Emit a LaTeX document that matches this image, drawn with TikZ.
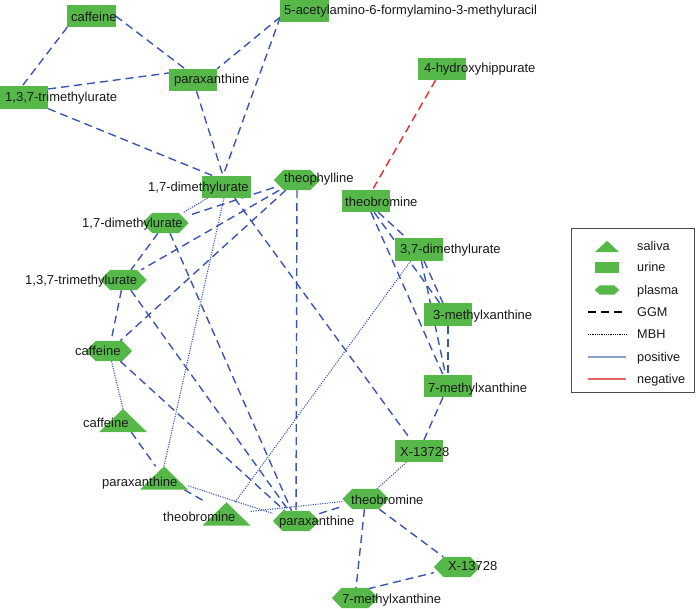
\documentclass[tikz,border=0pt]{standalone}
\usepackage{fontspec}
\setmainfont{Liberation Sans}
\usetikzlibrary{calc}
\definecolor{ngreen}{RGB}{86,184,72}
\definecolor{eblue}{RGB}{58,86,180}
\definecolor{ered}{RGB}{235,40,40}
\definecolor{lblue}{RGB}{140,155,210}
\definecolor{lred}{RGB}{230,100,100}
\definecolor{tcol}{RGB}{25,25,25}
\newcommand\hexfill[2]{\fill[ngreen] (#1.west) -- ([xshift=#2]#1.north west) -- ([xshift=-#2]#1.north east) -- (#1.east) -- ([xshift=-#2]#1.south east) -- ([xshift=#2]#1.south west) -- cycle;}
\newcommand\trifill[1]{\fill[ngreen] (#1.south west) -- (#1.north) -- (#1.south east) -- cycle;}
\newcommand\rectfill[1]{\fill[ngreen] (#1.north west) rectangle (#1.south east);}
\begin{document}
\begin{tikzpicture}[x=1pt,y=-1pt,
 urine/.style={rectangle,draw=none,minimum width=48pt,minimum height=22pt,inner sep=0pt},
 plasma/.style={rectangle,draw=none,minimum width=46pt,minimum height=20pt,inner sep=0pt},
 saliva/.style={rectangle,draw=none,minimum width=48pt,minimum height=23pt,inner sep=0pt},
 lgshape/.style={rectangle,draw=none,minimum width=24pt,minimum height=11pt,inner sep=0pt},
 lbl/.style={anchor=base west,inner sep=0pt,font=\fontsize{13}{15}\selectfont,text=tcol},
 lgl/.style={anchor=base west,inner sep=0pt,font=\fontsize{12.7}{15}\selectfont,text=tcol},
 ggm/.style={eblue,line width=1.4pt,dash pattern=on 8pt off 5pt},
 mbh/.style={eblue,line width=1.1pt,dash pattern=on 1.1pt off 1.3pt},
 neg/.style={ered,line width=1.4pt,dash pattern=on 8pt off 5pt},
]
\useasboundingbox (0,0) rectangle (700,608);
% ---- node anchors
\node[urine] (cafU) at (91.5,16) {};
\node[urine] (acetU) at (304.5,11) {};
\node[urine] (pxU) at (193,80) {};
\node[urine] (tmuU) at (24,97.5) {};
\node[urine] (hipU) at (442,69) {};
\node[urine] (dmuU) at (226.5,187) {};
\node[urine] (tbU) at (366,201) {};
\node[urine] (dmu37) at (419,249.5) {};
\node[urine] (m3x) at (448,314.5) {};
\node[urine] (m7x) at (448,386) {};
\node[urine] (xU) at (419,451) {};
\node[plasma] (theophP) at (297,180) {};
\node[plasma] (dmuP) at (165.5,223) {};
\node[plasma] (tmuP) at (123.5,280) {};
\node[plasma] (cafP) at (109,351) {};
\node[plasma] (tbP) at (365.5,499) {};
\node[plasma] (pxP) at (296,521) {};
\node[plasma] (xP) at (457,567) {};
\node[plasma] (mxP) at (355,598) {};
\node[saliva] (cafS) at (123,420.5) {};
\node[saliva] (pxS) at (164,478) {};
\node[saliva] (tbS) at (226.5,514) {};
% ---- GGM edges
\draw[ggm] (cafU.south west) -- ([xshift=-2pt]tmuU.north);
\draw[ggm] (cafU.east) -- ([xshift=-8pt]pxU.north);
\draw[ggm] ([yshift=8.5pt]tmuU.east) -- ([yshift=7pt]pxU.west);
\draw[ggm] ([yshift=-6pt]acetU.west) -- (pxU.north east);
\draw[ggm] ([yshift=-6pt]acetU.west) -- ([xshift=-3.5pt]dmuU.north);
\draw[ggm] (pxU) -- (dmuU);
\draw[ggm] (tmuU.south east) -- ([xshift=-13.5pt]dmuU.north);
\draw[ggm] (dmuU) -- (xU);
\draw[ggm] (theophP) -- (dmuP);
\draw[ggm] (theophP) -- (tmuP);
\draw[ggm] (theophP) -- (cafP);
\draw[ggm] (theophP) -- (pxP);
\draw[ggm] (dmuP) -- (tmuP);
\draw[ggm] (dmuP) -- (pxP);
\draw[ggm] (tmuP) -- (cafP);
\draw[ggm] (tmuP) -- (pxP);
\draw[ggm] (cafP) -- (pxP);
\draw[ggm] (cafS) -- (pxS);
\draw[ggm] (pxS) -- (tbS);
\draw[ggm] (pxP) -- (tbP);
\draw[ggm] (tbP) -- (mxP);
\draw[ggm] (tbP) -- (xP);
\draw[ggm] ([yshift=6pt]mxP.center) -- (xP);
\draw[ggm] (tbU) -- (dmu37);
\draw[ggm] (tbU) -- (m3x);
\draw[ggm] (tbU) -- (m7x);
\draw[ggm] (dmu37) -- (m3x);
\draw[ggm] (dmu37) -- (m7x);
\draw[ggm] (m3x) -- (m7x);
\draw[ggm] (m7x) -- (xU);
\draw[neg] (hipU) -- (tbU);
% ---- MBH edges
\draw[mbh] (dmuU) -- (dmuP);
\draw[mbh] (dmuU) -- (pxS.north);
\draw[mbh] (cafP) -- (cafS.north);
\draw[mbh] (pxS) -- (pxP);
\draw[mbh] (tbS) -- (tbP);
\draw[mbh] (tbS) -- (dmu37);
\draw[mbh] (tbP) -- (xU);
% ---- shapes
\foreach \n in {cafU,acetU,pxU,tmuU,hipU,dmuU,tbU,dmu37,m3x,m7x,xU} {\rectfill{\n}}
\foreach \n in {theophP,dmuP,tmuP,cafP,tbP,pxP,xP,mxP} {\hexfill{\n}{10pt}}
\foreach \n in {cafS,pxS,tbS} {\trifill{\n}}
% ---- labels
\node[lbl] (tcafU) at (71,21.3) {caffeine};
\node[lbl] (tacetU) at (284,14.4) {5-acetylamino-6-formylamino-3-methyluracil};
\node[lbl] (tpxU) at (174,83.6) {paraxanthine};
\node[lbl] (ttmuU) at (5,101.6) {1,3,7-trimethylurate};
\node[lbl] (thipU) at (424,72.6) {4-hydroxyhippurate};
\node[lbl] (tdmuU) at (148,191.6) {1,7-dimethylurate};
\node[lbl] (ttheophP) at (284,182.6) {theophylline};
\node[lbl] (ttbU) at (345,206.6) {theobromine};
\node[lbl] (tdmu37) at (400,253.6) {3,7-dimethylurate};
\node[lbl] (tm3x) at (433,319.6) {3-methylxanthine};
\node[lbl] (tm7x) at (428,392.6) {7-methylxanthine};
\node[lbl] (txU) at (400,456.6) {X-13728};
\node[lbl] (tdmuP) at (82,227.6) {1,7-dimethylurate};
\node[lbl] (ttmuP) at (25,284.6) {1,3,7-trimethylurate};
\node[lbl] (tcafP) at (75,355.6) {caffeine};
\node[lbl] (ttbP) at (351,504.6) {theobromine};
\node[lbl] (tpxP) at (279,525.6) {paraxanthine};
\node[lbl] (txP) at (448,570.6) {X-13728};
\node[lbl] (tmxP) at (342,603.6) {7-methylxanthine};
\node[lbl] (tcafS) at (83,427.6) {caffeine};
\node[lbl] (tpxS) at (102,486.6) {paraxanthine};
\node[lbl] (ttbS) at (163,521.6) {theobromine};
% ---- legend
\node[draw=black!70,line width=0.8pt,rectangle,minimum width=123pt,minimum height=164pt,inner sep=0pt] (legend) at (632.5,310) {};
\node[lgshape] (lgS) at (607,246.5) {};
\node[lgshape] (lgU) at (607,267.5) {};
\node[lgshape,minimum height=9pt] (lgP) at (607,290) {};
\trifill{lgS}
\rectfill{lgU}
\hexfill{lgP}{5pt}
\coordinate (lgGa) at (588,312); \coordinate (lgGb) at (626,312);
\coordinate (lgMa) at (588,334); \coordinate (lgMb) at (626,334);
\coordinate (lgPa) at (588,357); \coordinate (lgPb) at (626,357);
\coordinate (lgNa) at (588,379); \coordinate (lgNb) at (626,379);
\draw[black,line width=1.3pt,dash pattern=on 8pt off 5pt] (lgGa) -- (lgGb);
\draw[black,line width=0.8pt,dash pattern=on 0.8pt off 1pt] (lgMa) -- (lgMb);
\draw[lblue,line width=1.3pt] (lgPa) -- (lgPb);
\draw[lred,line width=1.3pt] (lgNa) -- (lgNb);
\node[lgl] (tlgS) at (637,250.6) {saliva};
\node[lgl] (tlgU) at (637,271.6) {urine};
\node[lgl] (tlgP) at (637,294.6) {plasma};
\node[lgl] (tlgG) at (637,316.6) {GGM};
\node[lgl] (tlgM) at (637,338.6) {MBH};
\node[lgl] (tlgPo) at (637,361.6) {positive};
\node[lgl] (tlgN) at (637,383.6) {negative};
\end{tikzpicture}
\end{document}
